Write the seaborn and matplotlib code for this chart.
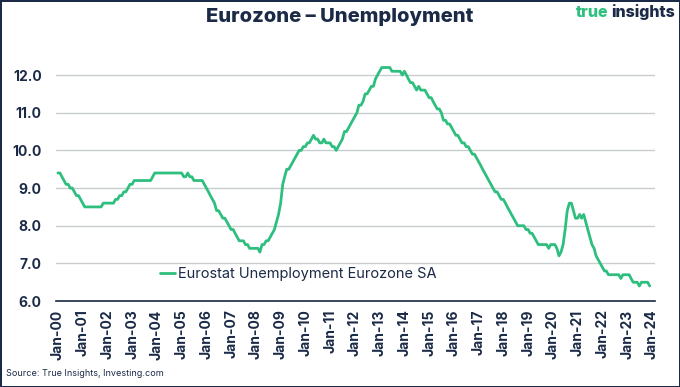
import pandas as pd
import seaborn as sns
import matplotlib.pyplot as plt
import matplotlib.dates as mdates

sns.set_theme(style="white")
plt.rcParams['font.family'] = ['Inter', 'DejaVu Sans']

NAVY = '#1b2a47'
GREEN = '#2ebf7f'

# monthly Eurostat unemployment rate, euro area, seasonally adjusted (%)
y2000 = [9.4, 9.4, 9.3, 9.2, 9.1, 9.1, 9.0, 9.0, 8.9, 8.8, 8.8, 8.7]
y2001 = [8.6, 8.5, 8.5, 8.5, 8.5, 8.5, 8.5, 8.5, 8.5, 8.5, 8.6, 8.6]
y2002 = [8.6, 8.6, 8.6, 8.6, 8.7, 8.7, 8.8, 8.8, 8.9, 8.9, 9.0, 9.1]
y2003 = [9.1, 9.2, 9.2, 9.2, 9.2, 9.2, 9.2, 9.2, 9.2, 9.2, 9.3, 9.4]
y2004 = [9.4, 9.4, 9.4, 9.4, 9.4, 9.4, 9.4, 9.4, 9.4, 9.4, 9.4, 9.4]
y2005 = [9.4, 9.3, 9.3, 9.4, 9.3, 9.3, 9.2, 9.2, 9.2, 9.2, 9.2, 9.1]
y2006 = [9.0, 8.9, 8.8, 8.7, 8.6, 8.4, 8.4, 8.3, 8.2, 8.2, 8.1, 8.0]
y2007 = [7.9, 7.9, 7.8, 7.7, 7.6, 7.6, 7.6, 7.5, 7.5, 7.4, 7.4, 7.4]
y2008 = [7.4, 7.4, 7.3, 7.5, 7.5, 7.6, 7.6, 7.7, 7.8, 7.9, 8.1, 8.3]
y2009 = [8.6, 9.1, 9.3, 9.5, 9.5, 9.6, 9.7, 9.8, 9.9, 10.0, 10.0, 10.1]
y2010 = [10.1, 10.2, 10.2, 10.3, 10.4, 10.3, 10.3, 10.2, 10.2, 10.3, 10.2, 10.2]
y2011 = [10.2, 10.1, 10.1, 10.0, 10.1, 10.2, 10.3, 10.5, 10.5, 10.6, 10.7, 10.8]
y2012 = [10.9, 11.0, 11.2, 11.2, 11.3, 11.5, 11.5, 11.6, 11.7, 11.7, 11.9, 12.0]
y2013 = [12.1, 12.2, 12.2, 12.2, 12.2, 12.2, 12.1, 12.1, 12.1, 12.1, 12.1, 12.0]
y2014 = [12.1, 12.0, 11.9, 11.8, 11.8, 11.7, 11.6, 11.7, 11.6, 11.6, 11.6, 11.5]
y2015 = [11.4, 11.4, 11.3, 11.2, 11.1, 11.1, 11.0, 10.8, 10.8, 10.7, 10.7, 10.6]
y2016 = [10.5, 10.4, 10.4, 10.3, 10.2, 10.2, 10.1, 10.1, 10.0, 9.9, 9.9, 9.8]
y2017 = [9.7, 9.6, 9.5, 9.4, 9.3, 9.2, 9.1, 9.0, 8.9, 8.9, 8.8, 8.7]
y2018 = [8.7, 8.6, 8.5, 8.4, 8.3, 8.2, 8.1, 8.0, 8.0, 8.0, 8.0, 7.9]
y2019 = [7.9, 7.8, 7.8, 7.7, 7.6, 7.5, 7.5, 7.5, 7.5, 7.5, 7.4, 7.5]
y2020 = [7.5, 7.5, 7.4, 7.2, 7.3, 7.5, 7.9, 8.4, 8.6, 8.6, 8.4, 8.2]
y2021 = [8.2, 8.3, 8.2, 8.3, 8.1, 7.9, 7.7, 7.5, 7.4, 7.2, 7.1, 7.0]
y2022 = [6.9, 6.8, 6.8, 6.7, 6.7, 6.7, 6.7, 6.7, 6.7, 6.6, 6.7, 6.7]
y2023 = [6.7, 6.7, 6.6, 6.5, 6.5, 6.5, 6.4, 6.5, 6.5, 6.5, 6.5, 6.4]

values = (y2000 + y2001 + y2002 + y2003 + y2004 + y2005 + y2006 + y2007
          + y2008 + y2009 + y2010 + y2011 + y2012 + y2013 + y2014 + y2015
          + y2016 + y2017 + y2018 + y2019 + y2020 + y2021 + y2022 + y2023)

df = pd.DataFrame({
    'date': pd.date_range('2000-01-01', periods=len(values), freq='MS'),
    'rate': values,
})

fig = plt.figure(figsize=(6.8, 3.87), dpi=100)
ax = fig.add_axes([0.082, 0.222, 0.881, 0.623])

sns.lineplot(data=df, x='date', y='rate', ax=ax, color=GREEN, linewidth=2,
             label='Eurostat Unemployment Eurozone SA')

ax.set_ylim(6.0, 12.4)
ax.set_yticks([6, 7, 8, 9, 10, 11, 12])
ax.yaxis.set_major_formatter(plt.FormatStrFormatter('%.1f'))
ax.set_xlim(pd.Timestamp('1999-12-01'), pd.Timestamp('2024-02-15'))
ax.xaxis.set_major_locator(mdates.YearLocator(1, month=1, day=1))
ax.xaxis.set_major_formatter(mdates.DateFormatter('Jan-%y'))
ax.set_xlabel('')
ax.set_ylabel('')

ax.grid(axis='y', color='#c9ccd1', linewidth=1)
ax.grid(axis='x', visible=False)
for s in ['top', 'right', 'left']:
    ax.spines[s].set_visible(False)
ax.spines['bottom'].set_color(NAVY)
ax.spines['bottom'].set_linewidth(1.2)
ax.tick_params(axis='both', length=0, colors=NAVY, labelsize=10)
ax.tick_params(axis='y', pad=10)
ax.tick_params(axis='x', pad=6)
for lbl in ax.get_xticklabels():
    lbl.set_rotation(90)
    lbl.set_fontweight('bold')
for lbl in ax.get_yticklabels():
    lbl.set_fontweight('bold')

leg = ax.legend(loc='lower center', bbox_to_anchor=(0.405, 0.03), frameon=False,
                fontsize=10.5, handlelength=1.0, handletextpad=0.25)
for t in leg.get_texts():
    t.set_color(NAVY)

fig.text(0.5, 0.955, 'Eurozone – Unemployment', ha='center', va='center',
         fontsize=14.5, fontweight='heavy', color=NAVY)

# logo: "insights" right-aligned, "true" placed just to its left
ins = fig.text(0.992, 0.968, 'insights', ha='right', va='center', fontsize=11.5,
               fontweight='heavy', color=NAVY)
fig.canvas.draw()
bb = ins.get_window_extent().transformed(fig.transFigure.inverted())
fig.text(bb.x0 - 0.004, 0.968, 'true', ha='right', va='center', fontsize=11.5,
         fontweight='heavy', color=GREEN)

fig.text(0.009, 0.034, 'Source: True Insights, Investing.com', ha='left',
         va='center', fontsize=6.5, color=NAVY)

fig.patch.set_edgecolor(NAVY)
fig.patch.set_linewidth(2)

fig.savefig('out.png', dpi=100, edgecolor=fig.get_edgecolor())
